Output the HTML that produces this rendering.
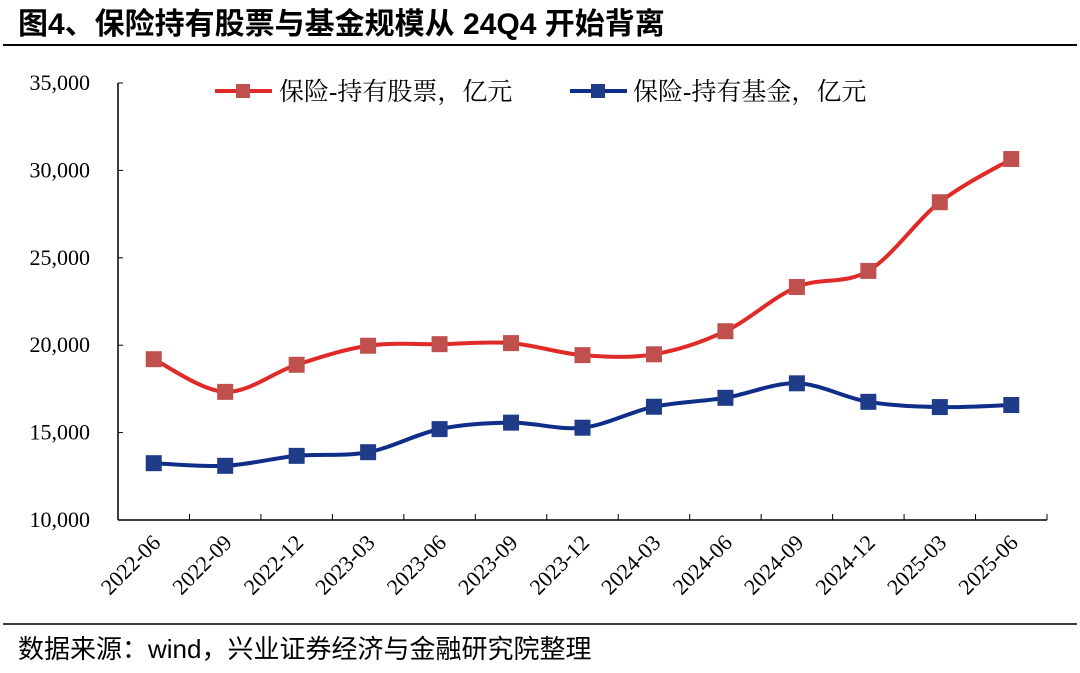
<!DOCTYPE html>
<html><head><meta charset="utf-8"><style>
body{margin:0;background:#fff;width:1080px;height:668px;overflow:hidden}
svg text{font-family:"Liberation Serif","Noto Serif CJK SC",serif}
</style></head><body>
<svg width="1080" height="668" xmlns="http://www.w3.org/2000/svg">
<text x="18" y="34" font-size="30" font-weight="bold" style="font-family:'Liberation Sans','Noto Sans CJK SC',sans-serif">图4、保险持有股票与基金规模从 24Q4 开始背离</text>
<line x1="3" y1="45" x2="1077" y2="45" stroke="#000" stroke-width="2"/>
<line x1="3" y1="624" x2="1077" y2="624" stroke="#000" stroke-width="1.5"/>
<text x="18" y="658" font-size="26" style="font-family:'Liberation Sans','Noto Sans CJK SC',sans-serif">数据来源：wind，兴业证券经济与金融研究院整理</text>
<g id="axes"></g><g id="series"></g>
<g>
<line x1="215" y1="91" x2="272" y2="91" stroke="#e02a27" stroke-width="4"/>
<rect x="236" y="84" width="14" height="14" fill="#c0504d"/>
<text x="279" y="100" font-size="25" style="font-family:'Liberation Serif','Noto Serif CJK SC',serif">保险-持有股票，亿元</text>
<line x1="570" y1="91" x2="627" y2="91" stroke="#0e2e8a" stroke-width="4"/>
<rect x="591" y="84" width="14" height="14" fill="#1f3c88"/>
<text x="633" y="100" font-size="25" style="font-family:'Liberation Serif','Noto Serif CJK SC',serif">保险-持有基金，亿元</text>
</g>
</svg>
<script>
const categories=["2022-06","2022-09","2022-12","2023-03","2023-06","2023-09","2023-12","2024-03","2024-06","2024-09","2024-12","2025-03","2025-06"];
const stocks=[19200,17330,18880,19970,20060,20120,19430,19480,20800,23330,24250,28180,30650];
const funds=[13250,13100,13670,13880,15200,15570,15280,16480,16990,17820,16760,16460,16580];
const yTicks=[10000,15000,20000,25000,30000,35000];
const NS="http://www.w3.org/2000/svg";
const L=118,R=1047,T=83,B=520;
const band=(R-L)/categories.length;
const xs=i=>L+band*(i+0.5);
const ys=v=>B-(v-10000)/25000*(B-T);
function el(t,a,p){const e=document.createElementNS(NS,t);for(const k in a)e.setAttribute(k,a[k]);p.appendChild(e);return e;}
const ax=document.getElementById('axes'),sg=document.getElementById('series');
const ya=el('line',{x1:L,y1:T,x2:L,y2:B,stroke:'#000','stroke-width':1.5},ax);


const xa=el('line',{x1:L,y1:B,x2:R,y2:B,stroke:'#000','stroke-width':1.5},ax);


yTicks.forEach(v=>{
 el('line',{x1:L,y1:ys(v),x2:L+5,y2:ys(v),stroke:'#000'},ax);
 const t=el('text',{x:90,y:ys(v)+7,'font-size':22,'text-anchor':'end'},ax);
 t.textContent=v.toLocaleString('en-US');
 
 
});
for(let i=1;i<=categories.length;i++)el('line',{x1:L+band*i,y1:B,x2:L+band*i,y2:B-6,stroke:'#000'},ax);
categories.forEach((c,i)=>{
 const x=xs(i)+8,y=B+24;
 const t=el('text',{x:x,y:y,'font-size':22,'text-anchor':'end',transform:`rotate(-45 ${x} ${y})`},ax);
 t.textContent=c;
 
 
});
function smooth(p){let d=`M${p[0][0]},${p[0][1]}`;for(let i=0;i<p.length-1;i++){const p0=p[i-1]||p[i],p1=p[i],p2=p[i+1],p3=p[i+2]||p2;const k=6;d+=` C${p1[0]+(p2[0]-p0[0])/k},${p1[1]+(p2[1]-p0[1])/k} ${p2[0]-(p3[0]-p1[0])/k},${p2[1]-(p3[1]-p1[1])/k} ${p2[0]},${p2[1]}`;}return d;}
function draw(vals,line,mark,name){
 const p=vals.map((v,i)=>[xs(i),ys(v)]);
 const path=el('path',{d:smooth(p),fill:'none',stroke:line,'stroke-width':4},sg);
 
 
 p.forEach(q=>{const r=el('rect',{x:q[0]-8,y:q[1]-8,width:16,height:16,fill:mark},sg);
 
 });
}
draw(stocks,'#e02a27','#c0504d','stocks');
draw(funds,'#0e2e8a','#1f3c88','funds');
</script>
</body></html>
